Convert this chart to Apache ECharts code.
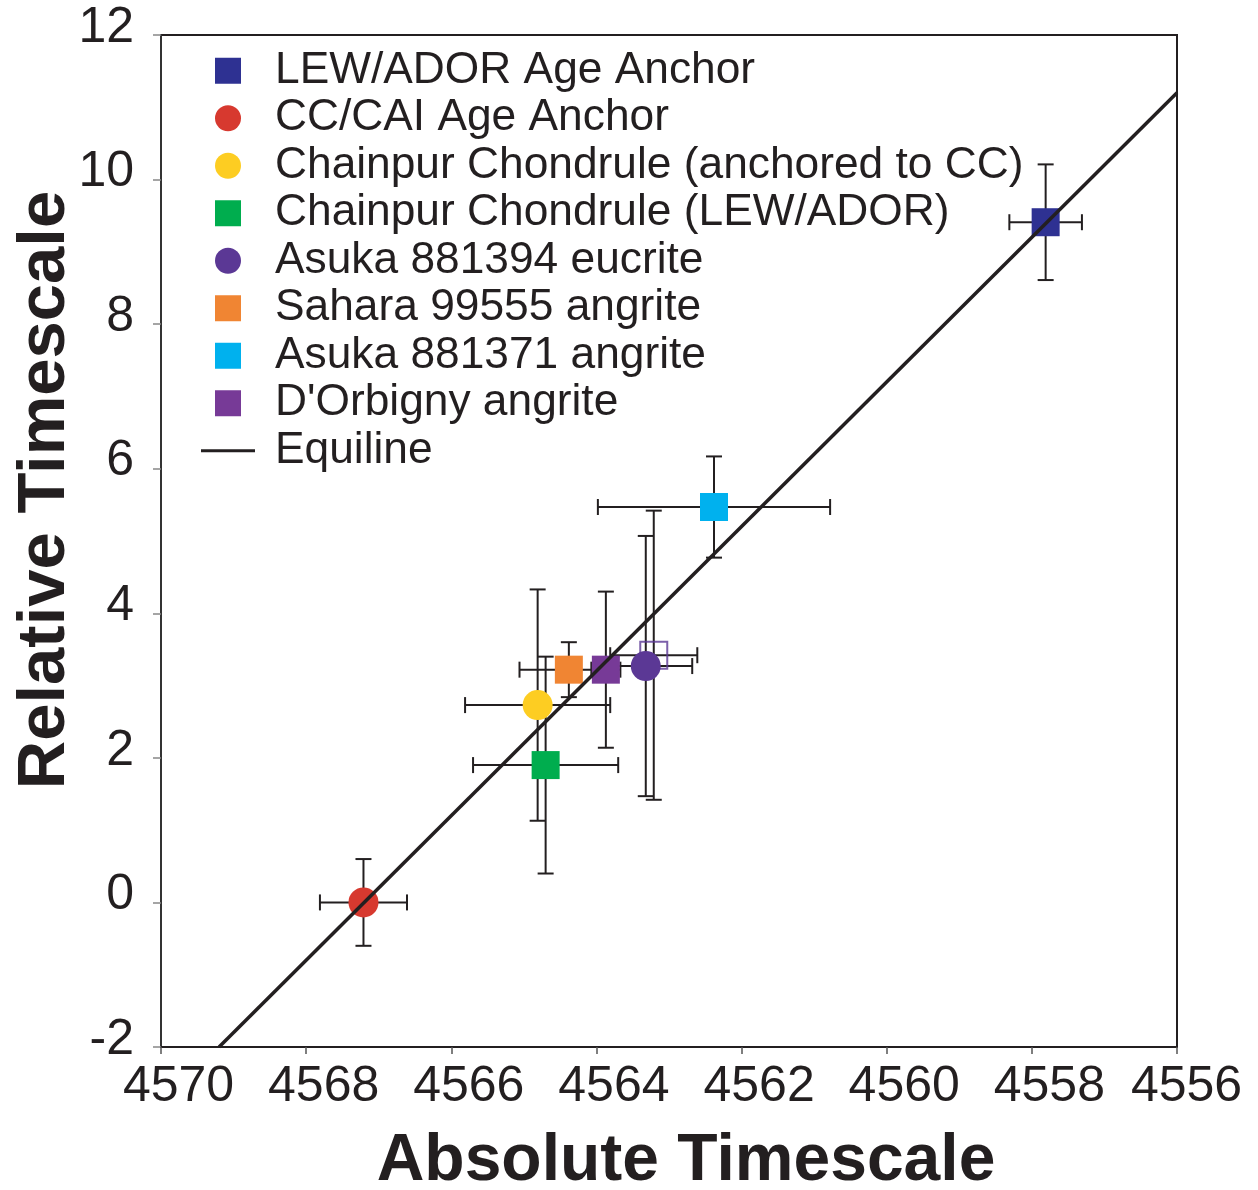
<!DOCTYPE html>
<html><head><meta charset="utf-8">
<script src="https://cdn.jsdelivr.net/npm/echarts@6/dist/echarts.min.js"></script>
<style>html,body{margin:0;padding:0;background:#fff}#c{width:1258px;height:1190px}</style>
</head><body><div id="c"></div>
<script>
// ---- data ----
const seriesNames = [
  'LEW/ADOR Age Anchor',
  'CC/CAI Age Anchor',
  'Chainpur Chondrule (anchored to CC)',
  'Chainpur Chondrule (LEW/ADOR)',
  'Asuka 881394 eucrite',
  'Sahara 99555 angrite',
  'Asuka 881371 angrite',
  "D'Orbigny angrite"
];
const xValues = [4557.81, 4567.21, 4564.81, 4564.70, 4563.32, 4564.38, 4562.38, 4563.87];
const yValues = [9.41, 0.00, 2.73, 1.90, 3.27, 3.22, 5.47, 3.22];
const xErrors = [0.50, 0.60, 1.00, 1.00, 0.64, 0.68, 1.60, 0.20];
const yErrors = [0.80, 0.60, 1.60, 1.50, 1.80, 0.38, 0.70, 1.08];
const colors  = ['#2e3192', '#d7392f', '#fdcd22', '#00ad4e', '#5b3895', '#f08533', '#00b1ee', '#773a97'];
const symbols = ['rect', 'circle', 'circle', 'rect', 'circle', 'rect', 'rect', 'rect'];
// open (unlabelled) square
const openX = [4563.21];
const openY = [3.42];
const openXErr = [0.60];
const openYErr = [2.00];
// equiline endpoints
const equiX = [4569.2, 4556.0];
const equiY = [-2.0, 11.2];
const equiName = 'Equiline';

const xMin = 4556, xMax = 4570, xStep = 2;
const yMin = -2, yMax = 12, yStep = 2;

// ---- build options ----
const ink = '#231f20';
const font = 'Liberation Sans, Arial, Helvetica, sans-serif';
const rectPath = 'path://M0,0L10,0L10,10L0,10Z';
const linePath = 'path://M0,0L54,0L54,3L0,3Z';

const errData = [];
for (let i = 0; i < xValues.length; i++) errData.push([xValues[i], yValues[i], xErrors[i], yErrors[i]]);
for (let i = 0; i < openX.length; i++) errData.push([openX[i], openY[i], openXErr[i], openYErr[i]]);

function renderErr(params, api) {
  const x = api.value(0), y = api.value(1), ex = api.value(2), ey = api.value(3);
  const cap = 8;
  const children = [];
  const st = {stroke: ink, lineWidth: 2};
  if (ex > 0) {
    const a = api.coord([x - ex, y]), b = api.coord([x + ex, y]);
    children.push({type: 'line', shape: {x1: a[0], y1: a[1], x2: b[0], y2: b[1]}, style: st});
    children.push({type: 'line', shape: {x1: a[0], y1: a[1] - cap, x2: a[0], y2: a[1] + cap}, style: st});
    children.push({type: 'line', shape: {x1: b[0], y1: b[1] - cap, x2: b[0], y2: b[1] + cap}, style: st});
  }
  if (ey > 0) {
    const a = api.coord([x, y - ey]), b = api.coord([x, y + ey]);
    children.push({type: 'line', shape: {x1: a[0], y1: a[1], x2: b[0], y2: b[1]}, style: st});
    children.push({type: 'line', shape: {x1: a[0] - cap, y1: a[1], x2: a[0] + cap, y2: a[1]}, style: st});
    children.push({type: 'line', shape: {x1: b[0] - cap, y1: b[1], x2: b[0] + cap, y2: b[1]}, style: st});
  }
  return {type: 'group', children};
}

const series = [];
series.push({
  type: 'custom', name: 'errorbars', renderItem: renderErr, data: errData,
  encode: {x: 0, y: 1}, z: 1, silent: true
});
series.push({
  type: 'scatter', name: 'open', data: openX.map((v, i) => [v, openY[i]]),
  symbol: 'rect', symbolSize: 27, z: 2,
  itemStyle: {color: 'rgba(255,255,255,0)', borderColor: '#5b3895', borderWidth: 2}
});
for (let i = 0; i < seriesNames.length; i++) {
  series.push({
    type: 'scatter', name: seriesNames[i], data: [[xValues[i], yValues[i]]],
    symbol: symbols[i], symbolSize: symbols[i] === 'circle' ? 30 : 28, z: 2,
    itemStyle: {color: colors[i], opacity: 1}
  });
}
series.push({
  type: 'line', name: equiName, data: equiX.map((v, i) => [v, equiY[i]]),
  symbol: 'none', showSymbol: false, z: 3, lineStyle: {color: ink, width: 3.5}, itemStyle: {color: ink}
});

const legendData = seriesNames.map((n, i) => ({name: n, icon: symbols[i] === 'rect' ? rectPath : 'circle'}));
legendData.push({name: equiName, icon: linePath, itemStyle: {color: ink}});

const option = {
  animation: false,
  backgroundColor: '#fff',
  grid: {left: 161, top: 35, right: 81, bottom: 143, show: true, borderColor: ink, borderWidth: 2,
         containLabel: false, outerBoundsMode: 'none'},
  legend: {
    data: legendData, orient: 'vertical', left: 201, top: 47, padding: 0,
    itemWidth: 54, itemHeight: 26, itemGap: 0,
    textStyle: {fontFamily: font, fontSize: 44.3, color: ink, lineHeight: 47.5, padding: [0, 0, 0, 15]}
  },
  xAxis: {
    type: 'value', min: xMin, max: xMax, interval: xStep, inverse: true,
    name: 'Absolute Timescale', nameLocation: 'middle', nameGap: 82, nameMoveOverlap: false,
    nameTextStyle: {fontFamily: font, fontSize: 66, fontWeight: 'bold', color: ink, padding: [0, 0, 0, 34]},
    axisLine: {onZero: false, lineStyle: {color: ink, width: 2}},
    axisTick: {inside: false, length: 7, lineStyle: {color: '#555', width: 1.5}},
    axisLabel: {
      fontFamily: font, fontSize: 50, color: ink, margin: 15,
      formatter: v => (v === xMin ? '{e|' + v + '}' : '{n|' + v + '}'),
      rich: {
        n: {fontFamily: font, fontSize: 50, color: ink, padding: [0, 0, 0, 35]},
        e: {fontFamily: font, fontSize: 50, color: ink, padding: [0, 0, 0, 19]}
      }
    },
    splitLine: {show: false}
  },
  yAxis: {
    type: 'value', min: yMin, max: yMax, interval: yStep,
    name: 'Relative Timescale', nameLocation: 'middle', nameGap: 82, nameMoveOverlap: false,
    nameTextStyle: {fontFamily: font, fontSize: 67, fontWeight: 'bold', color: ink, padding: [0, 0, 0, 102]},
    axisLine: {show: true, onZero: false, lineStyle: {color: '#333', width: 2}},
    axisTick: {inside: false, length: 8, lineStyle: {color: '#888', width: 1.5}},
    axisLabel: {
      fontFamily: font, fontSize: 50, color: ink, margin: 27,
      formatter: v => '{a|' + v + '}',
      rich: {a: {fontFamily: font, fontSize: 50, color: ink, padding: [0, 0, 14, 0]}}
    },
    splitLine: {show: false}
  },
  series
};
const chart = echarts.init(document.getElementById('c'), null, {renderer: 'canvas'});
chart.setOption(option);
</script>
</body></html>
